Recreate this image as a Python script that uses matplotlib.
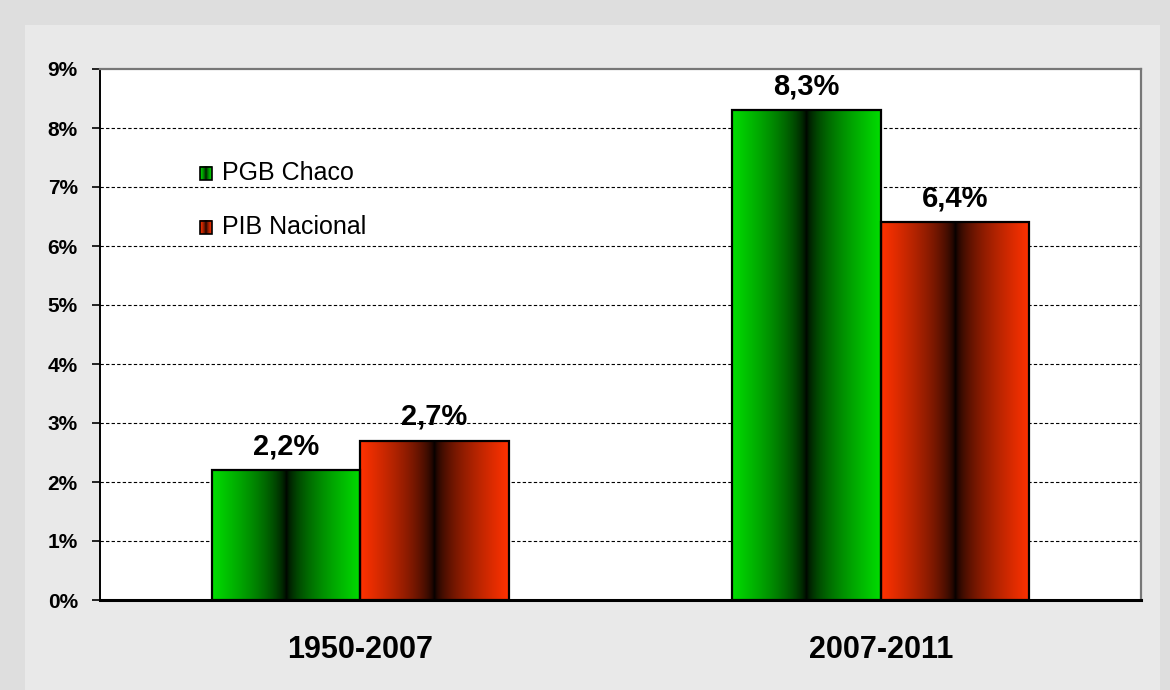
import numpy as np
import matplotlib
matplotlib.use('Agg')
import matplotlib.pyplot as plt
from matplotlib.patches import Rectangle

categories = ['1950-2007', '2007-2011']
chaco = [2.2, 8.3]
nacional = [2.7, 6.4]
chaco_labels = ['2,2%', '8,3%']
nacional_labels = ['2,7%', '6,4%']
y_ticks = list(range(0, 10))
series_names = ['PGB Chaco', 'PIB Nacional']

plt.rcParams['font.family'] = ['Liberation Sans', 'DejaVu Sans']

GREEN = np.array([0, 220, 0]) / 255
RED = np.array([255, 50, 0]) / 255


def gradient(base, n=200):
    t = np.abs(np.linspace(-1, 1, n))
    f = t ** 0.6
    img = f[None, :, None] * base[None, None, :]
    return img


def grad_bar(ax, x, h, w, base):
    bar = ax.bar(x, h, w, facecolor='none', edgecolor='black', linewidth=1.6, zorder=4)[0]
    im = ax.imshow(gradient(base), extent=[x - w / 2, x + w / 2, 0, h], aspect='auto',
                   interpolation='bilinear', zorder=3)
    im.set_clip_path(bar)
    return bar


fig = plt.figure(figsize=(11.7, 6.9), dpi=100, facecolor='#dedede')
fig.patches.append(Rectangle((25 / 1170, 0), 1135 / 1170, 1 - 25 / 690, transform=fig.transFigure,
                             facecolor='#e9e9e9', edgecolor='none', zorder=-5))
ax = fig.add_axes([100 / 1170, 1 - 600 / 690, 1041 / 1170, 531 / 690])
ax.set_facecolor('white')

w = 0.285
x = np.arange(len(categories))
for i in range(len(categories)):
    grad_bar(ax, x[i] - w / 2, chaco[i], w, GREEN)
    grad_bar(ax, x[i] + w / 2, nacional[i], w, RED)
    ax.text(x[i] - w / 2, chaco[i] + 0.17, chaco_labels[i], ha='center', va='bottom',
            fontsize=21, fontweight='bold', zorder=5)
    ax.text(x[i] + w / 2, nacional[i] + 0.17, nacional_labels[i], ha='center', va='bottom',
            fontsize=21, fontweight='bold', zorder=5)

ax.set_xlim(-0.5, len(categories) - 0.5)
ax.set_ylim(0, 9)
ax.set_xticks(x)
ax.set_xticklabels(categories, fontsize=22, fontweight='bold')
ax.tick_params(axis='x', length=0, pad=25)
ax.set_yticks(y_ticks)
ax.set_yticklabels([f'{v}%' for v in y_ticks], fontsize=15, fontweight='bold')
ax.tick_params(axis='y', length=6, width=1.2, pad=10, direction='out')

for v in y_ticks[1:-1]:
    ax.axhline(v, color='black', linewidth=0.8, linestyle=(0, (3, 2)), zorder=1)

ax.spines['left'].set_color('black')
ax.spines['left'].set_linewidth(1.4)
ax.spines['bottom'].set_color('black')
ax.spines['bottom'].set_linewidth(2.2)
ax.spines['top'].set_color('#777777')
ax.spines['top'].set_linewidth(1.6)
ax.spines['right'].set_color('#777777')
ax.spines['right'].set_linewidth(1.6)

# legend
leg_bases = [GREEN, RED]
leg_y = [0.804, 0.702]
for name, base, yy in zip(series_names, leg_bases, leg_y):
    sq_w, sq_h = 12 / 1041, 13 / 531
    sq_x = (200 - 100) / 1041
    ax.imshow(gradient(base, 20), extent=[sq_x, sq_x + sq_w, yy - sq_h / 2, yy + sq_h / 2],
              transform=ax.transAxes, aspect='auto', zorder=5, clip_on=False)
    ax.add_patch(Rectangle((sq_x, yy - sq_h / 2), sq_w, sq_h, transform=ax.transAxes,
                           facecolor='none', edgecolor='black', linewidth=1.2, zorder=6))
    ax.text((222 - 100) / 1041, yy, name, transform=ax.transAxes, fontsize=18,
            va='center', ha='left', zorder=6)

ax.set_xlim(-0.5, len(categories) - 0.5)
ax.set_ylim(0, 9)

fig.savefig('out.png', dpi=100, facecolor=fig.get_facecolor())
